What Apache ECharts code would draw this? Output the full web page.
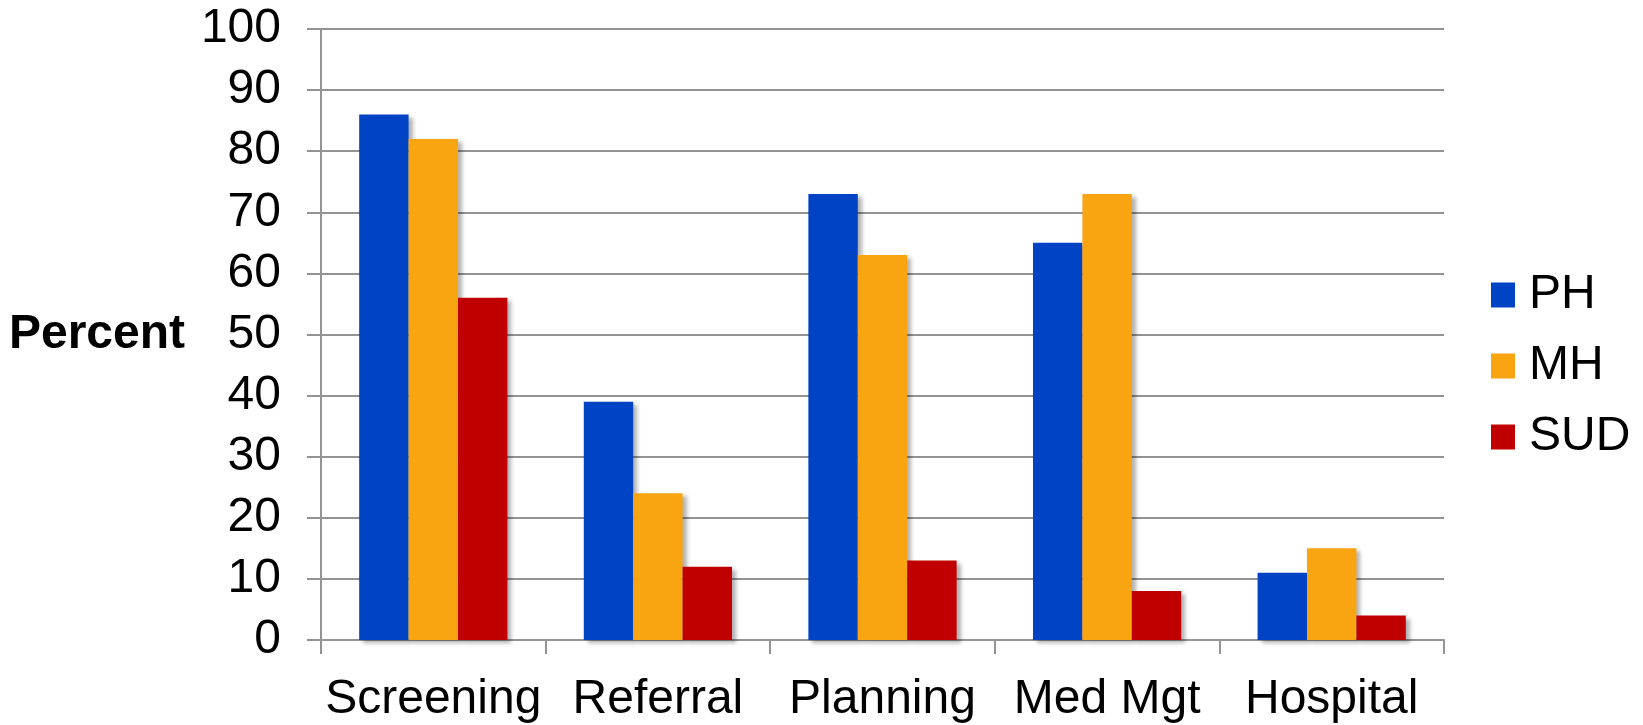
<!DOCTYPE html>
<html>
<head>
<meta charset="utf-8">
<script src="https://cdn.jsdelivr.net/npm/echarts@6/dist/echarts.min.js"></script>
<style>
  html, body { margin: 0; padding: 0; background: #fff; }
  #main { width: 1643px; height: 725px; }
</style>
</head>
<body>
<div id="main"></div>
<script>
const categories = ['Screening', 'Referral', 'Planning', 'Med Mgt', 'Hospital'];
const phValues = [86, 39, 73, 65, 11];
const mhValues = [82, 24, 63, 73, 15];
const sudValues = [56, 12, 13, 8, 4];
const yTicks = [0, 10, 20, 30, 40, 50, 60, 70, 80, 90, 100];

const font = '"Liberation Sans", Arial, sans-serif';
const gridColor = '#939393';

const barShadow = {
  shadowColor: 'rgba(0,0,0,0.3)',
  shadowBlur: 4,
  shadowOffsetX: 4,
  shadowOffsetY: 3
};

const myChart = echarts.init(document.getElementById('main'));

const option = {
  animation: false,
  textStyle: { fontFamily: font },
  grid: {
    left: 321,
    top: 29,
    width: 1123,
    height: 611,
    containLabel: false
  },
  legend: {
    orient: 'vertical',
    left: 1491,
    top: 271,
    padding: 0,
    itemWidth: 24,
    itemHeight: 25,
    itemGap: 23,
    icon: 'rect',
    textStyle: {
      fontFamily: font,
      fontSize: 48,
      color: '#000',
      padding: [0, 0, 0, 9]
    },
    data: ['PH', 'MH', 'SUD']
  },
  xAxis: {
    type: 'category',
    data: categories,
    axisLine: { lineStyle: { color: gridColor, width: 2 } },
    axisTick: { show: true, length: 14, lineStyle: { color: gridColor, width: 2 } },
    axisLabel: {
      fontFamily: font,
      fontSize: 48,
      color: '#000',
      margin: 36,
      interval: 0
    }
  },
  yAxis: {
    type: 'value',
    min: yTicks[0],
    max: yTicks[yTicks.length - 1],
    interval: 10,
    name: 'Percent',
    nameLocation: 'middle',
    nameRotate: 0,
    nameGap: 136,
    nameTextStyle: {
      fontFamily: font,
      fontSize: 48,
      fontWeight: 'bold',
      color: '#000',
      align: 'right',
      verticalAlign: 'middle'
    },
    axisLine: { show: true, lineStyle: { color: gridColor, width: 2 } },
    axisTick: { show: true, length: 14, lineStyle: { color: gridColor, width: 2 } },
    axisLabel: {
      fontFamily: font,
      fontSize: 48,
      color: '#000',
      margin: 40
    },
    splitLine: { show: true, lineStyle: { color: gridColor, width: 2 } }
  },
  series: [
    {
      name: 'PH',
      type: 'bar',
      data: phValues,
      barGap: '0%',
      barCategoryGap: '34%',
      itemStyle: Object.assign({ color: '#0043C5' }, barShadow)
    },
    {
      name: 'MH',
      type: 'bar',
      data: mhValues,
      itemStyle: Object.assign({ color: '#F9A511' }, barShadow)
    },
    {
      name: 'SUD',
      type: 'bar',
      data: sudValues,
      itemStyle: Object.assign({ color: '#C00000' }, barShadow)
    }
  ]
};

myChart.setOption(option);
</script>
</body>
</html>
